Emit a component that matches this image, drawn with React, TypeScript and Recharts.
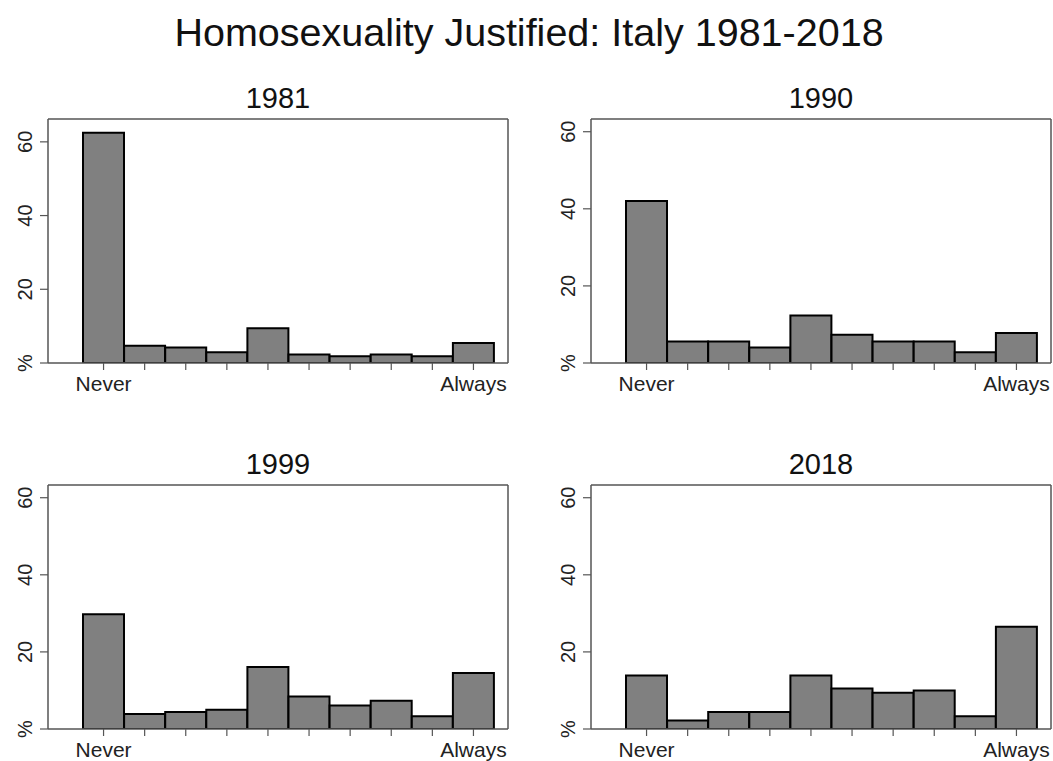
import React from "react";
import { BarChart, Bar, XAxis, YAxis } from "recharts";

const categories = [1, 2, 3, 4, 5, 6, 7, 8, 9, 10];
const tickLabels = ["Never", "", "", "", "", "", "", "", "", "Always"];
const yTicks = [0, 20, 40, 60];

const pct1981 = [62.5, 4.7, 4.2, 2.9, 9.4, 2.3, 1.8, 2.3, 1.8, 5.4];
const pct1990 = [42.0, 5.6, 5.6, 4.0, 12.3, 7.3, 5.6, 5.6, 2.8, 7.8];
const pct1999 = [29.8, 3.9, 4.4, 5.0, 16.1, 8.4, 6.1, 7.3, 3.3, 14.5];
const pct2018 = [13.9, 2.2, 4.4, 4.4, 13.9, 10.5, 9.4, 10.0, 3.3, 26.5];

const font = "'Liberation Sans', Arial, Helvetica, sans-serif";
const lineColor = "#555";

const toRows = (vals: number[]) =>
	categories.map((c, i) => ({ cat: c, pct: vals[i] }));

const YTick = (props: any) => {
	const { x, y, payload } = props;
	const tx = x - 6;
	return (
		<text
			x={tx}
			y={y}
			transform={`rotate(-90 ${tx} ${y})`}
			textAnchor="middle"
			fontSize={20}
			fontFamily={font}
			fill="#222"
		>
			{payload.value === 0 ? "%" : payload.value}
		</text>
	);
};

const Panel = ({ vals, left, top, yMax }: { vals: number[]; left: number; top: number; yMax: number }) => {
	return (
		<div style={{ position: "absolute", left, top }}>
			<BarChart
				width={520}
				height={320}
				data={toRows(vals)}
				margin={{ top: 33, right: 11, bottom: 12, left: 0 }}
				barCategoryGap={0}
				barGap={0}
			>
				<XAxis
					dataKey="cat"
					type="category"
					interval={0}
					height={30}
					padding={{ left: 35, right: 14 }}
					tickFormatter={(v: number) => tickLabels[v - 1]}
					tick={{ fontSize: 21, fontFamily: font, fill: "#222" }}
					tickSize={7}
					tickMargin={6}
					stroke={lineColor}
					axisLine={{ stroke: lineColor, strokeWidth: 1.5 }}
					tickLine={{ stroke: lineColor, strokeWidth: 1.2 }}
				/>
				<XAxis
					xAxisId="top"
					orientation="top"
					dataKey="cat"
					height={1}
					tick={false}
					tickLine={false}
					axisLine={{ stroke: lineColor, strokeWidth: 1.5 }}
				/>
				<YAxis
					type="number"
					domain={[0, yMax]}
					ticks={yTicks}
					allowDataOverflow
					width={48}
					tick={<YTick />}
					tickSize={8}
					tickMargin={2}
					axisLine={{ stroke: lineColor, strokeWidth: 1.5 }}
					tickLine={{ stroke: lineColor, strokeWidth: 1.2 }}
				/>
				<YAxis
					yAxisId="right"
					orientation="right"
					width={1}
					domain={[0, yMax]}
					tick={false}
					tickLine={false}
					axisLine={{ stroke: lineColor, strokeWidth: 1.5 }}
				/>
				<Bar dataKey="pct" fill="#808080" stroke="#000" strokeWidth={2} isAnimationActive={false} />
			</BarChart>
		</div>
	);
};

export default function App() {
	return (
		<div style={{ position: "absolute", left: 0, top: 0, width: 1053, height: 761, background: "#fff" }}>
			<svg width={1053} height={761} style={{ position: "absolute", left: 0, top: 0 }}>
				<text x={529} y={46} textAnchor="middle" fontSize={39.5} fontFamily={font} fill="#111">
					Homosexuality Justified: Italy 1981-2018
				</text>
				<text x={278} y={108} textAnchor="middle" fontSize={29} fontFamily={font} fill="#111">1981</text>
				<text x={821} y={108} textAnchor="middle" fontSize={29} fontFamily={font} fill="#111">1990</text>
				<text x={278} y={474} textAnchor="middle" fontSize={29} fontFamily={font} fill="#111">1999</text>
				<text x={821} y={474} textAnchor="middle" fontSize={29} fontFamily={font} fill="#111">2018</text>
			</svg>
			<Panel vals={pct1981} left={0} top={85} yMax={66.2} />
			<Panel vals={pct1990} left={543} top={85} yMax={63.3} />
			<Panel vals={pct1999} left={0} top={451} yMax={63.3} />
			<Panel vals={pct2018} left={543} top={451} yMax={63.3} />
		</div>
	);
}
